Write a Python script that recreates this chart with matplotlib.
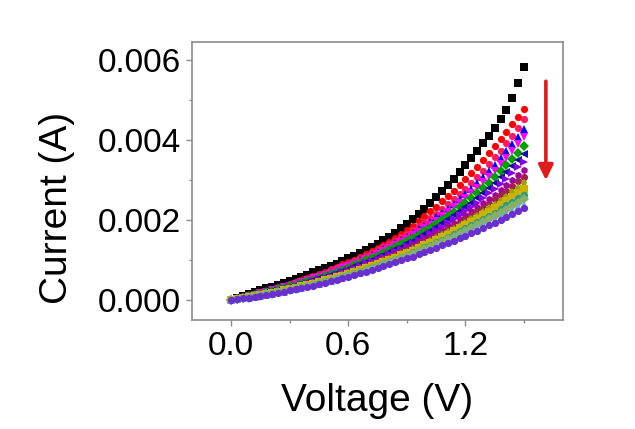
import numpy as np
import matplotlib
matplotlib.use("Agg")
import matplotlib.pyplot as plt

plt.rcParams["font.family"] = ["Liberation Sans", "DejaVu Sans"]

# voltage sweep (V)
voltage = [0.00, 0.03, 0.06, 0.09, 0.12, 0.15, 0.18, 0.21, 0.24, 0.27, 0.30,
           0.33, 0.36, 0.39, 0.42, 0.45, 0.48, 0.51, 0.54, 0.57, 0.60,
           0.63, 0.66, 0.69, 0.72, 0.75, 0.78, 0.81, 0.84, 0.87, 0.90,
           0.93, 0.96, 0.99, 1.02, 1.05, 1.08, 1.11, 1.14, 1.17, 1.20,
           1.23, 1.26, 1.29, 1.32, 1.35, 1.38, 1.41, 1.44, 1.47, 1.50]

# currents in mA, one list per sweep (top to bottom at 1.5 V)
cur_black = [0, 0.05, 0.10, 0.14, 0.19, 0.24, 0.29, 0.33, 0.38, 0.43, 0.48,
             0.53, 0.58, 0.63, 0.69, 0.74, 0.80, 0.85, 0.91, 0.98, 1.04,
             1.11, 1.18, 1.25, 1.33, 1.41, 1.50, 1.59, 1.69, 1.80, 1.91,
             2.03, 2.15, 2.28, 2.42, 2.57, 2.72, 2.88, 3.04, 3.21, 3.38,
             3.55, 3.73, 3.92, 4.11, 4.32, 4.53, 4.76, 5.06, 5.43, 5.84]
cur_red = [0, 0.04, 0.07, 0.11, 0.15, 0.19, 0.23, 0.27, 0.32, 0.36, 0.41,
           0.45, 0.50, 0.55, 0.60, 0.66, 0.71, 0.77, 0.82, 0.89, 0.95,
           1.01, 1.08, 1.15, 1.22, 1.30, 1.38, 1.46, 1.56, 1.66, 1.76,
           1.86, 1.98, 2.10, 2.22, 2.34, 2.47, 2.60, 2.74, 2.88, 3.03,
           3.18, 3.34, 3.50, 3.67, 3.85, 4.03, 4.21, 4.40, 4.59, 4.78]
cur_3 = [0, 0.03, 0.07, 0.11, 0.14, 0.18, 0.22, 0.26, 0.30, 0.35, 0.39,
         0.44, 0.48, 0.53, 0.58, 0.63, 0.68, 0.74, 0.79, 0.85, 0.91,
         0.97, 1.04, 1.11, 1.17, 1.25, 1.32, 1.40, 1.48, 1.57, 1.66,
         1.75, 1.85, 1.95, 2.05, 2.16, 2.28, 2.40, 2.52, 2.65, 2.79,
         2.93, 3.08, 3.23, 3.40, 3.57, 3.74, 3.93, 4.12, 4.32, 4.53]
cur_4 = [0, 0.03, 0.07, 0.10, 0.14, 0.17, 0.21, 0.25, 0.29, 0.33, 0.37,
         0.42, 0.46, 0.51, 0.56, 0.60, 0.65, 0.71, 0.76, 0.82, 0.87,
         0.93, 1.00, 1.06, 1.13, 1.20, 1.27, 1.34, 1.42, 1.50, 1.59,
         1.68, 1.77, 1.86, 1.96, 2.07, 2.18, 2.29, 2.41, 2.53, 2.66,
         2.79, 2.93, 3.08, 3.23, 3.39, 3.55, 3.72, 3.90, 4.09, 4.28]
cur_5 = [0, 0.03, 0.06, 0.10, 0.13, 0.17, 0.20, 0.24, 0.28, 0.32, 0.36,
         0.40, 0.45, 0.49, 0.54, 0.58, 0.63, 0.68, 0.74, 0.79, 0.85,
         0.90, 0.96, 1.03, 1.09, 1.16, 1.23, 1.30, 1.37, 1.45, 1.53,
         1.62, 1.71, 1.80, 1.89, 1.99, 2.10, 2.20, 2.32, 2.43, 2.55,
         2.68, 2.81, 2.95, 3.09, 3.24, 3.40, 3.56, 3.73, 3.90, 4.08]
cur_6 = [0, 0.03, 0.06, 0.09, 0.13, 0.16, 0.19, 0.23, 0.27, 0.31, 0.34,
         0.38, 0.43, 0.47, 0.51, 0.56, 0.61, 0.66, 0.71, 0.76, 0.81,
         0.87, 0.93, 0.99, 1.05, 1.11, 1.18, 1.25, 1.32, 1.40, 1.47,
         1.55, 1.64, 1.72, 1.81, 1.91, 2.01, 2.11, 2.21, 2.32, 2.44,
         2.55, 2.68, 2.81, 2.94, 3.08, 3.22, 3.37, 3.53, 3.69, 3.86]
cur_7 = [0, 0.03, 0.06, 0.09, 0.12, 0.15, 0.19, 0.22, 0.26, 0.29, 0.33,
         0.37, 0.41, 0.45, 0.49, 0.54, 0.58, 0.63, 0.68, 0.73, 0.78,
         0.84, 0.89, 0.95, 1.01, 1.07, 1.14, 1.20, 1.27, 1.34, 1.42,
         1.49, 1.57, 1.66, 1.74, 1.83, 1.92, 2.02, 2.12, 2.22, 2.33,
         2.44, 2.56, 2.68, 2.80, 2.93, 3.07, 3.21, 3.35, 3.50, 3.66]
cur_8 = [0, 0.03, 0.05, 0.08, 0.11, 0.15, 0.18, 0.21, 0.24, 0.28, 0.32,
         0.35, 0.39, 0.43, 0.48, 0.52, 0.56, 0.61, 0.66, 0.70, 0.75,
         0.81, 0.86, 0.92, 0.97, 1.03, 1.09, 1.16, 1.22, 1.29, 1.36,
         1.44, 1.51, 1.59, 1.67, 1.76, 1.84, 1.93, 2.03, 2.13, 2.23,
         2.33, 2.44, 2.55, 2.67, 2.79, 2.91, 3.04, 3.18, 3.32, 3.46]
cur_9 = [0, 0.03, 0.05, 0.08, 0.11, 0.14, 0.17, 0.20, 0.23, 0.27, 0.30,
         0.34, 0.38, 0.42, 0.46, 0.50, 0.54, 0.58, 0.63, 0.68, 0.73,
         0.78, 0.83, 0.88, 0.94, 0.99, 1.05, 1.11, 1.18, 1.24, 1.31,
         1.38, 1.45, 1.52, 1.60, 1.68, 1.76, 1.85, 1.94, 2.03, 2.12,
         2.22, 2.32, 2.43, 2.53, 2.64, 2.76, 2.88, 3.00, 3.13, 3.26]
cur_10 = [0, 0.02, 0.05, 0.08, 0.10, 0.13, 0.16, 0.19, 0.22, 0.26, 0.29,
          0.33, 0.36, 0.40, 0.44, 0.48, 0.52, 0.56, 0.61, 0.65, 0.70,
          0.75, 0.80, 0.85, 0.90, 0.96, 1.02, 1.07, 1.13, 1.20, 1.26,
          1.33, 1.40, 1.47, 1.54, 1.62, 1.69, 1.77, 1.86, 1.94, 2.03,
          2.12, 2.22, 2.31, 2.41, 2.52, 2.63, 2.74, 2.85, 2.97, 3.09]
cur_11 = [0, 0.02, 0.05, 0.07, 0.10, 0.13, 0.15, 0.18, 0.21, 0.25, 0.28,
          0.31, 0.35, 0.38, 0.42, 0.46, 0.50, 0.54, 0.58, 0.63, 0.67,
          0.72, 0.77, 0.82, 0.87, 0.92, 0.98, 1.03, 1.09, 1.15, 1.21,
          1.28, 1.34, 1.41, 1.48, 1.55, 1.62, 1.70, 1.78, 1.86, 1.94,
          2.02, 2.11, 2.20, 2.30, 2.39, 2.49, 2.59, 2.70, 2.80, 2.92]
cur_12 = [0, 0.02, 0.05, 0.07, 0.09, 0.12, 0.15, 0.18, 0.21, 0.24, 0.27,
          0.30, 0.34, 0.37, 0.41, 0.45, 0.49, 0.53, 0.57, 0.61, 0.66,
          0.70, 0.75, 0.80, 0.85, 0.90, 0.95, 1.01, 1.06, 1.12, 1.18,
          1.24, 1.30, 1.37, 1.43, 1.50, 1.57, 1.64, 1.72, 1.80, 1.87,
          1.95, 2.04, 2.12, 2.21, 2.30, 2.39, 2.49, 2.59, 2.69, 2.79]
cur_13 = [0, 0.02, 0.04, 0.07, 0.09, 0.12, 0.14, 0.17, 0.20, 0.23, 0.26,
          0.29, 0.33, 0.36, 0.40, 0.43, 0.47, 0.51, 0.55, 0.59, 0.63,
          0.68, 0.72, 0.77, 0.82, 0.87, 0.92, 0.97, 1.03, 1.08, 1.14,
          1.20, 1.26, 1.32, 1.38, 1.45, 1.51, 1.58, 1.65, 1.72, 1.80,
          1.87, 1.95, 2.03, 2.11, 2.19, 2.28, 2.37, 2.46, 2.55, 2.64]
cur_14 = [0, 0.02, 0.04, 0.06, 0.09, 0.11, 0.14, 0.16, 0.19, 0.22, 0.25,
          0.28, 0.32, 0.35, 0.38, 0.42, 0.46, 0.49, 0.53, 0.57, 0.62,
          0.66, 0.70, 0.75, 0.80, 0.84, 0.89, 0.94, 1.00, 1.05, 1.10,
          1.16, 1.22, 1.28, 1.34, 1.40, 1.46, 1.53, 1.59, 1.66, 1.73,
          1.80, 1.87, 1.95, 2.02, 2.10, 2.18, 2.26, 2.35, 2.43, 2.52]
cur_15 = [0, 0.02, 0.04, 0.06, 0.08, 0.11, 0.13, 0.16, 0.19, 0.21, 0.24,
          0.27, 0.30, 0.34, 0.37, 0.41, 0.44, 0.48, 0.52, 0.56, 0.60,
          0.64, 0.68, 0.73, 0.77, 0.82, 0.87, 0.92, 0.97, 1.02, 1.07,
          1.12, 1.18, 1.23, 1.29, 1.35, 1.41, 1.47, 1.54, 1.60, 1.67,
          1.73, 1.80, 1.87, 1.94, 2.01, 2.09, 2.16, 2.24, 2.32, 2.39]
cur_last = [0, 0.02, 0.04, 0.06, 0.08, 0.10, 0.13, 0.15, 0.18, 0.21, 0.24,
            0.27, 0.30, 0.33, 0.36, 0.40, 0.43, 0.47, 0.50, 0.54, 0.58,
            0.62, 0.67, 0.71, 0.75, 0.80, 0.85, 0.89, 0.94, 0.99, 1.04,
            1.09, 1.15, 1.20, 1.26, 1.31, 1.37, 1.43, 1.49, 1.55, 1.61,
            1.68, 1.74, 1.81, 1.87, 1.94, 2.01, 2.08, 2.15, 2.22, 2.30]

sweeps = [cur_black, cur_red, cur_3, cur_4, cur_5, cur_6, cur_7, cur_8,
          cur_9, cur_10, cur_11, cur_12, cur_13, cur_14, cur_15, cur_last]
colors = ["#000000", "#ff0000", "#ff1a66", "#0000ff", "#ff00ff", "#00a000",
          "#1010a0", "#8a00e6", "#a000a0", "#a02050", "#a0a000", "#c8b400",
          "#2a9a8a", "#88b060", "#70a8d8", "#6a2fd0"]
markers = ["s", "o", "o", "^", "v", "D", "<", ">", "h", "o", "p", "s",
           "o", "D", "^", "o"]

x_ticks = [0.0, 0.6, 1.2]
x_tick_labels = ["0.0", "0.6", "1.2"]
y_ticks = [0.000, 0.002, 0.004, 0.006]
y_tick_labels = ["0.000", "0.002", "0.004", "0.006"]

fig = plt.figure(figsize=(6.35, 4.29), dpi=100)
ax = fig.add_axes([0.3024, 0.2541, 0.5843, 0.6469])

for values, color, marker in zip(sweeps, colors, markers):
    ax.plot(voltage, np.array(values) / 1000.0, linestyle="none",
            marker=marker, markersize=5.2, markeredgewidth=0, color=color)

# red arrow: current drops with each sweep
ax.annotate("", xy=(1.612, 0.00300), xytext=(1.612, 0.00548),
            arrowprops=dict(arrowstyle="-|>,head_length=0.45,head_width=0.22",
                            color="#e31a1c", lw=2.6, mutation_scale=20,
                            shrinkA=0, shrinkB=0))

ax.set_xlim(-0.2, 1.7)
ax.set_ylim(-0.0005, 0.00645)
ax.set_xticks(x_ticks)
ax.set_xticklabels(x_tick_labels)
ax.set_yticks(y_ticks)
ax.set_yticklabels(y_tick_labels)
ax.set_xticks([0.3, 0.9, 1.5], minor=True)
ax.set_yticks([0.001, 0.003, 0.005], minor=True)
ax.tick_params(which="major", direction="out", length=4, width=1.0,
               color="#8c8c8c", labelsize=24, pad=4)
ax.tick_params(which="minor", direction="out", length=2.2, width=1.0,
               color="#8c8c8c")
for side in ax.spines.values():
    side.set_color("#8c8c8c")
    side.set_linewidth(1.2)

fig.text(0.594, 0.066, "Voltage (V)", fontsize=28, ha="center", va="center")
fig.text(0.09, 0.515, "Current (A)", fontsize=28, ha="center", va="center",
         rotation=90)

fig.savefig("out.png", dpi=100)
